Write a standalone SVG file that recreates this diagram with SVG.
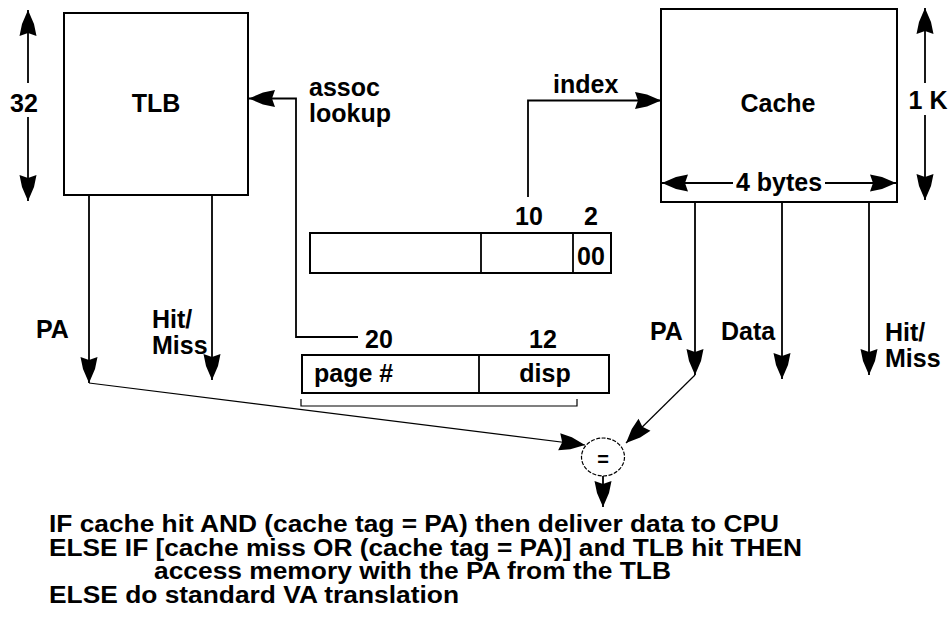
<svg xmlns="http://www.w3.org/2000/svg" width="952" height="618" viewBox="0 0 952 618">
<style>
  .box { fill: #fff; stroke: #000; stroke-width: 2; }
  .ln { fill: none; stroke: #000; stroke-width: 1.8; }
  .thin { fill: none; stroke: #000; stroke-width: 1.2; }
  .lbl { font-family: "Liberation Sans", Arial, Helvetica, sans-serif; font-weight: bold; font-size: 25px; fill: #000; }
  .note { font-family: "Liberation Sans", Arial, Helvetica, sans-serif; font-weight: bold; font-size: 23.5px; fill: #000; }
  .mid { text-anchor: middle; }
</style>
<defs>
  <marker id="ah" markerUnits="userSpaceOnUse" markerWidth="28" markerHeight="18" viewBox="0 0 28 18" refX="27" refY="9" orient="auto" overflow="visible">
    <path d="M27,9 L13,3 L1,0.5 L4,9 L1,17.5 L13,15 Z" fill="#000"/>
  </marker>
</defs>
<rect width="952" height="618" fill="#fff"/>

<g id="tlb">
  <rect class="box" x="64" y="13" width="184" height="182"/>
  <text class="lbl mid" x="156" y="112">TLB</text>
</g>

<g id="tlb-size">
  <line class="ln" x1="28" y1="83" x2="28" y2="10" marker-end="url(#ah)"/>
  <line class="ln" x1="28" y1="117" x2="28" y2="201" marker-end="url(#ah)"/>
  <text class="lbl mid" x="24" y="112">32</text>
</g>

<g id="cache">
  <rect class="box" x="661" y="9" width="236" height="193"/>
  <text class="lbl mid" x="778" y="112">Cache</text>
  <line class="ln" x1="733" y1="183" x2="662" y2="183" marker-end="url(#ah)"/>
  <line class="ln" x1="825" y1="183" x2="896" y2="183" marker-end="url(#ah)"/>
  <text class="lbl mid" x="779" y="191">4 bytes</text>
</g>

<g id="cache-size">
  <line class="ln" x1="925" y1="83" x2="925" y2="8" marker-end="url(#ah)"/>
  <line class="ln" x1="925" y1="115" x2="925" y2="200" marker-end="url(#ah)"/>
  <text class="lbl mid" x="928" y="109">1 K</text>
</g>

<g id="cache-address">
  <rect class="box" x="310" y="233" width="301" height="40"/>
  <line class="ln" x1="481" y1="233" x2="481" y2="273"/>
  <line class="ln" x1="573" y1="233" x2="573" y2="273"/>
  <text class="lbl mid" x="591" y="265">00</text>
  <text class="lbl mid" x="529" y="225">10</text>
  <text class="lbl mid" x="591" y="225">2</text>
</g>

<g id="virtual-address">
  <rect class="box" x="302" y="355" width="307" height="38"/>
  <line class="ln" x1="479" y1="355" x2="479" y2="393"/>
  <text class="lbl" x="314" y="382">page #</text>
  <text class="lbl mid" x="545" y="382">disp</text>
  <text class="lbl mid" x="379" y="348">20</text>
  <text class="lbl mid" x="543" y="348">12</text>
  <path class="thin" d="M301,399 V406 H577 V399"/>
</g>

<g id="comparator">
  <ellipse cx="603" cy="457" rx="21.5" ry="19" fill="#fff" stroke="#000" stroke-width="1.2" stroke-dasharray="4 1.5"/>
  <text x="603" y="466" text-anchor="middle" font-family="Liberation Sans, Arial, sans-serif" font-weight="bold" font-size="20">=</text>
</g>

<g id="connectors">
  <path class="ln" d="M358,337 H296 V98.5 H249" marker-end="url(#ah)"/>
  <path class="ln" d="M528,197 V100.5 H661" marker-end="url(#ah)"/>
  <line class="ln" x1="89" y1="195" x2="89" y2="383" marker-end="url(#ah)"/>
  <line class="ln" x1="212" y1="195" x2="212" y2="380" marker-end="url(#ah)"/>
  <line class="ln" x1="695" y1="202" x2="695" y2="375" marker-end="url(#ah)"/>
  <line class="ln" x1="782" y1="202" x2="782" y2="379" marker-end="url(#ah)"/>
  <line class="ln" x1="869" y1="202" x2="869" y2="375" marker-end="url(#ah)"/>
  <line class="thin" x1="89" y1="383" x2="585" y2="445" marker-end="url(#ah)"/>
  <line class="thin" x1="695" y1="375" x2="626" y2="443" marker-end="url(#ah)"/>
  <line class="ln" x1="603" y1="476" x2="603" y2="507" marker-end="url(#ah)"/>
</g>

<g id="labels">
  <text class="lbl" x="309" y="96">assoc</text>
  <text class="lbl" x="309" y="122">lookup</text>
  <text class="lbl" x="553" y="93">index</text>
  <text class="lbl" x="36" y="338">PA</text>
  <text class="lbl" x="152" y="328">Hit/</text>
  <text class="lbl" x="152" y="354">Miss</text>
  <text class="lbl" x="650" y="340">PA</text>
  <text class="lbl" x="721" y="340">Data</text>
  <text class="lbl" x="885" y="341">Hit/</text>
  <text class="lbl" x="885" y="367">Miss</text>
</g>

<g id="notes">
  <text class="note" x="49" y="532" textLength="730" lengthAdjust="spacingAndGlyphs">IF cache hit AND (cache tag = PA) then deliver data to CPU</text>
  <text class="note" x="49" y="555.5" textLength="753" lengthAdjust="spacingAndGlyphs">ELSE IF [cache miss OR (cache tag = PA)] and TLB hit THEN</text>
  <text class="note" x="154" y="579" textLength="517" lengthAdjust="spacingAndGlyphs">access memory with the PA from the TLB</text>
  <text class="note" x="49" y="602.5" textLength="410" lengthAdjust="spacingAndGlyphs">ELSE do standard VA translation</text>
</g>
</svg>
